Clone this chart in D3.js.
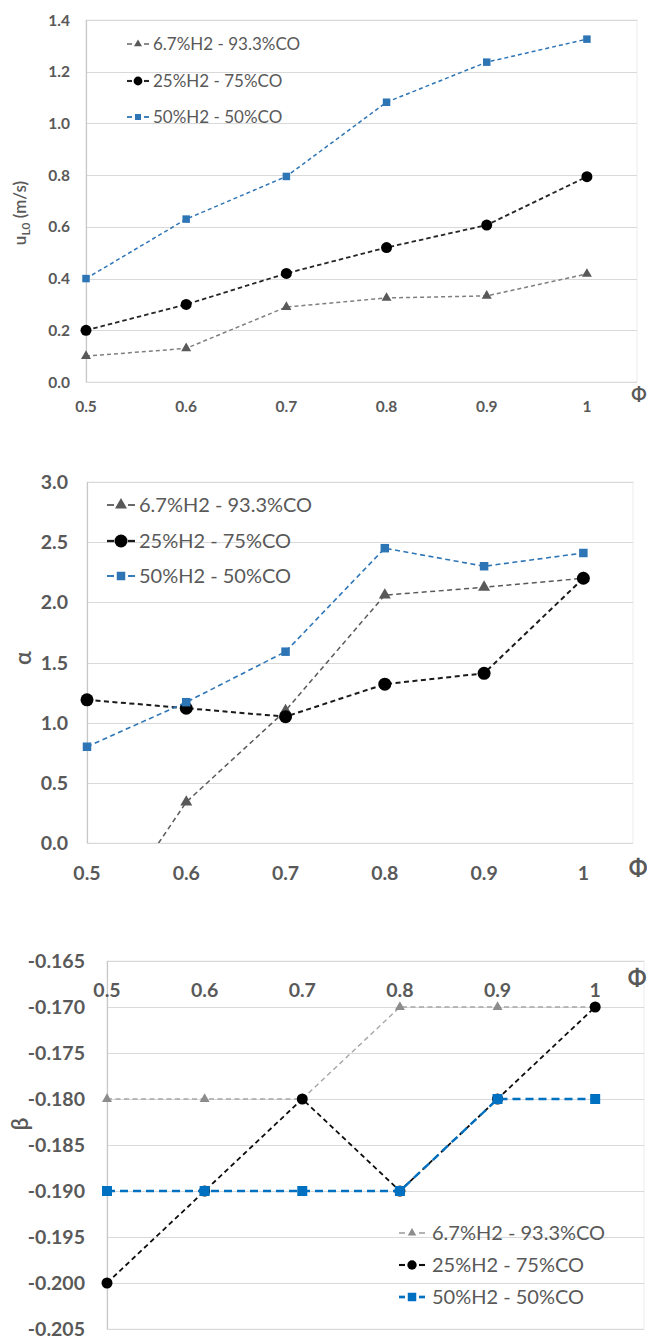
<!DOCTYPE html>
<html>
<head>
<meta charset="utf-8">
<script src="https://cdn.jsdelivr.net/npm/d3@7"></script>
<style>
  html, body { margin: 0; padding: 0; background: #ffffff; }
  svg { display: block; }
</style>
</head>
<body>
<svg id="fig" width="647" height="1342"></svg>
<script>
// Equivalence ratio (x axis, shared by all three panels)
const phi = [0.5, 0.6, 0.7, 0.8, 0.9, 1.0];
const phiTickLabels = ["0.5", "0.6", "0.7", "0.8", "0.9", "1"];
const seriesNames = ["6.7%H2 - 93.3%CO", "25%H2 - 75%CO", "50%H2 - 50%CO"];

// Laminar flame speed u_L0 (m/s)
const uL0_h2_6 = [0.10, 0.13, 0.29, 0.325, 0.333, 0.418];
const uL0_h2_25 = [0.20, 0.30, 0.42, 0.52, 0.607, 0.794];
const uL0_h2_50 = [0.40, 0.63, 0.795, 1.082, 1.237, 1.326];
const uL0Ticks = [0, 0.2, 0.4, 0.6, 0.8, 1.0, 1.2, 1.4];

// Temperature exponent alpha
const alpha_h2_6 = [-0.88, 0.34, 1.10, 2.06, 2.125, 2.20];
const alpha_h2_25 = [1.19, 1.12, 1.05, 1.32, 1.41, 2.20];
const alpha_h2_50 = [0.80, 1.17, 1.59, 2.45, 2.30, 2.41];
const alphaTicks = [0, 0.5, 1.0, 1.5, 2.0, 2.5, 3.0];

// Pressure exponent beta
const beta_h2_6 = [-0.180, -0.180, -0.180, -0.170, -0.170, -0.170];
const beta_h2_25 = [-0.200, -0.190, -0.180, -0.190, -0.180, -0.170];
const beta_h2_50 = [-0.190, -0.190, -0.190, -0.190, -0.180, -0.180];
const betaTicks = [-0.165, -0.170, -0.175, -0.180, -0.185, -0.190, -0.195, -0.200, -0.205];

const svg = d3.select("#fig");
const FONT = "Lato, 'Open Sans', sans-serif";
const TEXT = "#595959";
const GRID = "#d9d9d9";

// plain hyphen for negative numbers
const fmt1 = d => d3.format(".1f")(d);
const fmt3 = d => d3.format(".3f")(d).replace("\u2212", "-");

const panels = [
  {
    id: "u", values: [uL0_h2_6, uL0_h2_25, uL0_h2_50], ticks: uL0Ticks, fmt: fmt1,
    x0: 86, x1: 637, yTop: 20, yBot: 382, yDomain: [0, 1.4], axisAtTop: false,
    tickFont: 15.5, xLabelY: 406, yLabelRight: 70,
    phiPos: [639, 395], phiFont: 18,
    title: { x: 20, y: 213, size: 17, kind: "u" },
    styles: [
      { color: "#7f7f7f", width: 1.5, dash: "4,3", marker: "tri", mcolor: "#595959", msize: 10 },
      { color: "#262626", width: 1.8, dash: "4.5,3", marker: "circ", mcolor: "#000000", msize: 5.5 },
      { color: "#2e75b6", width: 1.5, dash: "4,3", marker: "sq", mcolor: "#2e75b6", msize: 7.5 }
    ],
    legend: { x: 138, ys: [44, 81, 117], textX: 153, size: 17, weight: 400, half: 11, gap: 6, lsizeScale: 0.8 }
  },
  {
    id: "a", values: [alpha_h2_6, alpha_h2_25, alpha_h2_50], ticks: alphaTicks, fmt: fmt1,
    x0: 87, x1: 633, yTop: 482, yBot: 843, yDomain: [0, 3], axisAtTop: false,
    tickFont: 19.5, xLabelY: 873, yLabelRight: 68,
    phiPos: [638, 868], phiFont: 22,
    title: { x: 23, y: 658, size: 23, kind: "text", text: "α" },
    styles: [
      { color: "#595959", width: 1.5, dash: "5,3.5", marker: "tri", mcolor: "#595959", msize: 12 },
      { color: "#1a1a1a", width: 2, dash: "5,3.5", marker: "circ", mcolor: "#000000", msize: 6.5 },
      { color: "#2e75b6", width: 1.6, dash: "5,3.5", marker: "sq", mcolor: "#2e75b6", msize: 8.5 }
    ],
    legend: { x: 121, ys: [505, 541, 576], textX: 139, size: 20, weight: 400, half: 14, gap: 7, lsizeScale: 1 }
  },
  {
    id: "b", values: [beta_h2_6, beta_h2_25, beta_h2_50], ticks: betaTicks, fmt: fmt3,
    x0: 107, x1: 644, yTop: 961, yBot: 1329, yDomain: [-0.165, -0.205], axisAtTop: true,
    tickFont: 19.5, xLabelY: 990, yLabelRight: 85,
    phiPos: [637, 978], phiFont: 22,
    title: { x: 20, y: 1124, size: 23, kind: "text", text: "β" },
    styles: [
      { color: "#a6a6a6", width: 1.4, dash: "5,3.5", marker: "tri", mcolor: "#8c8c8c", msize: 10 },
      { color: "#0d0d0d", width: 1.8, dash: "5,3.5", marker: "circ", mcolor: "#000000", msize: 5.5 },
      { color: "#0070c0", width: 2.4, dash: "8,5", marker: "sq", mcolor: "#0070c0", msize: 10 }
    ],
    legend: { x: 412, ys: [1233, 1265, 1297], textX: 432, size: 20, weight: 400, half: 13, gap: 7, lsizeScale: 0.85 }
  }
];

function markerPath(kind, s) {
  if (kind === "tri") return d3.symbol(d3.symbolTriangle, s * s * Math.sqrt(3) / 4)();
  if (kind === "sq") return d3.symbol(d3.symbolSquare, s * s)();
  return d3.symbol(d3.symbolCircle, Math.PI * s * s)();
}

panels.forEach(p => {
  const x = d3.scaleLinear().domain([0.5, 1.05]).range([p.x0, p.x1]);
  const y = d3.scaleLinear().domain(p.yDomain).range(p.axisAtTop ? [p.yTop, p.yBot] : [p.yBot, p.yTop]);
  const g = svg.append("g");

  // plot area frame
  g.append("rect")
    .attr("x", p.x0).attr("y", p.yTop)
    .attr("width", p.x1 - p.x0).attr("height", p.yBot - p.yTop)
    .attr("fill", "none").attr("stroke", "#ececec").attr("stroke-width", 1);

  // horizontal gridlines
  g.append("g").selectAll("line").data(p.ticks).join("line")
    .attr("x1", p.x0).attr("x2", p.x1)
    .attr("y1", d => Math.round(y(d)) + 0.5).attr("y2", d => Math.round(y(d)) + 0.5)
    .attr("stroke", GRID).attr("stroke-width", 1);

  // vertical axis line
  g.append("line")
    .attr("x1", p.x0 + 0.5).attr("x2", p.x0 + 0.5)
    .attr("y1", p.yTop).attr("y2", p.yBot)
    .attr("stroke", "#c8c8c8").attr("stroke-width", 1.2);

  // y tick labels
  g.append("g").selectAll("text").data(p.ticks).join("text")
    .attr("x", p.yLabelRight).attr("y", d => y(d))
    .attr("dy", "0.36em").attr("text-anchor", "end")
    .attr("font-family", FONT).attr("font-weight", 700)
    .attr("font-size", p.tickFont).attr("fill", TEXT)
    .text(d => p.fmt(d));

  // x tick labels
  g.append("g").selectAll("text").data(phi).join("text")
    .attr("x", d => x(d)).attr("y", p.xLabelY)
    .attr("dy", "0.36em").attr("text-anchor", "middle")
    .attr("font-family", FONT).attr("font-weight", 700)
    .attr("font-size", p.tickFont).attr("fill", TEXT)
    .text((d, i) => phiTickLabels[i]);

  // phi axis title
  g.append("text")
    .attr("x", p.phiPos[0]).attr("y", p.phiPos[1]).attr("dy", "0.36em")
    .attr("text-anchor", "middle")
    .attr("font-family", FONT).attr("font-weight", 700)
    .attr("font-size", p.phiFont).attr("fill", TEXT)
    .text("Φ");

  // y axis title
  const t = g.append("text")
    .attr("transform", `translate(${p.title.x},${p.title.y}) rotate(-90)`)
    .attr("text-anchor", "middle").attr("dy", "0.36em")
    .attr("font-family", FONT).attr("font-weight", 600)
    .attr("font-size", p.title.size).attr("fill", TEXT);
  if (p.title.kind === "u") {
    t.append("tspan").text("u");
    t.append("tspan").attr("font-size", p.title.size * 0.7).attr("dy", "0.3em").text("L0");
    t.append("tspan").attr("dy", "-0.2em").text(" (m/s)");
  } else {
    t.text(p.title.text);
  }

  // clip for series lines
  const clipId = "clip-" + p.id;
  svg.append("clipPath").attr("id", clipId)
    .append("rect").attr("x", p.x0).attr("y", p.yTop)
    .attr("width", p.x1 - p.x0).attr("height", p.yBot - p.yTop);

  const line = d3.line().x(d => x(d[0])).y(d => y(d[1]));

  p.values.forEach((vals, si) => {
    const st = p.styles[si];
    const pts = phi.map((f, i) => [f, vals[i]]);
    g.append("path")
      .attr("d", line(pts))
      .attr("clip-path", `url(#${clipId})`)
      .attr("fill", "none").attr("stroke", st.color)
      .attr("stroke-width", st.width).attr("stroke-dasharray", st.dash);
    const inside = pts.filter(d => d[1] >= Math.min(...p.yDomain) && d[1] <= Math.max(...p.yDomain));
    g.append("g").selectAll("path").data(inside).join("path")
      .attr("transform", d => `translate(${x(d[0])},${y(d[1])})`)
      .attr("d", markerPath(st.marker, st.msize))
      .attr("fill", st.mcolor);
  });

  // legend
  const L = p.legend;
  seriesNames.forEach((name, si) => {
    const st = p.styles[si];
    const ly = L.ys[si];
    const lg = g.append("g");
    [[-L.half, -L.gap], [L.gap, L.half]].forEach(seg => {
      lg.append("line")
        .attr("x1", L.x + seg[0]).attr("x2", L.x + seg[1])
        .attr("y1", ly).attr("y2", ly)
        .attr("stroke", st.color).attr("stroke-width", st.width + 0.3);
    });
    lg.append("path")
      .attr("transform", `translate(${L.x},${ly})`)
      .attr("d", markerPath(st.marker, st.msize * L.lsizeScale))
      .attr("fill", st.mcolor);
    lg.append("text")
      .attr("x", L.textX).attr("y", ly).attr("dy", "0.36em")
      .attr("font-family", FONT).attr("font-weight", L.weight)
      .attr("font-size", L.size).attr("fill", TEXT)
      .text(name);
  });
});
</script>
</body>
</html>
